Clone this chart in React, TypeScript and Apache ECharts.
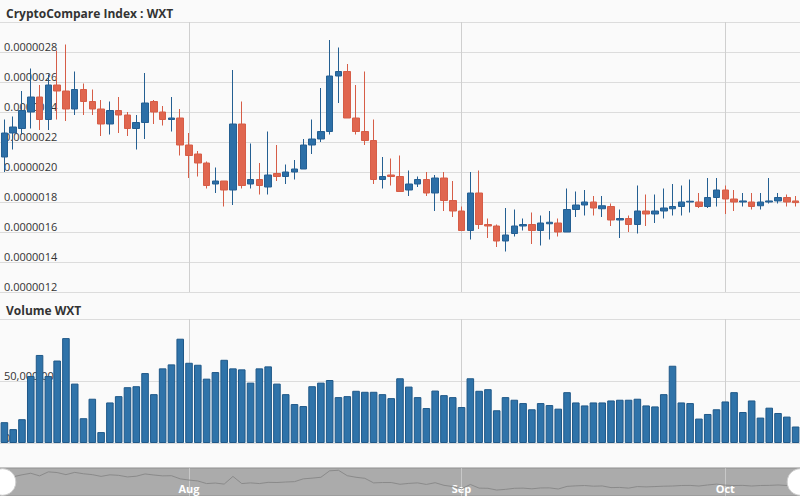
import React, { useEffect, useRef } from "react";
import * as echarts from "echarts";

// 91 daily candles, 11 Jul -> 9 Oct
const DAY_COUNT = 91;
const FIRST_DAY = Date.UTC(2017, 6, 11);
const categories: string[] = [];
for (let i = 0; i < DAY_COUNT; i++) {
  categories.push(new Date(FIRST_DAY + i * 86400000).toISOString().slice(0, 10));
}
const monthNames = ["Jan", "Feb", "Mar", "Apr", "May", "Jun", "Jul", "Aug", "Sep", "Oct", "Nov", "Dec"];

// prices in units of 0.000001
const opens = [
  2.10, 2.26, 2.29, 2.40, 2.50, 2.35, 2.58, 2.54, 2.42, 2.55, 2.47, 2.42, 2.32, 2.41, 2.38, 2.29, 2.33, 2.47, 2.40, 2.35,
  2.36, 2.18, 2.12, 2.06, 1.92, 1.94, 1.88, 2.32, 1.92, 1.95, 1.90, 1.99, 1.97, 2.00, 2.02, 2.18, 2.22, 2.27, 2.64, 2.67,
  2.36, 2.27, 2.21, 1.95, 1.98, 1.97, 1.88, 1.92, 1.95, 1.86, 1.96, 1.81, 1.74, 1.61, 1.86, 1.65, 1.64, 1.54, 1.59, 1.64,
  1.65, 1.61, 1.655, 1.66, 1.60, 1.75, 1.78, 1.80, 1.755, 1.77, 1.68, 1.69, 1.65, 1.74, 1.72, 1.74, 1.755, 1.77, 1.80, 1.80,
  1.77, 1.83, 1.88, 1.82, 1.80, 1.80, 1.775, 1.80, 1.807, 1.83, 1.807,
];
const closes = [
  2.26, 2.30, 2.41, 2.50, 2.35, 2.58, 2.54, 2.42, 2.55, 2.47, 2.42, 2.32, 2.41, 2.38, 2.29, 2.33, 2.46, 2.40, 2.35, 2.36,
  2.18, 2.11, 2.06, 1.91, 1.94, 1.88, 2.32, 1.91, 1.95, 1.91, 1.98, 1.97, 2.00, 2.02, 2.18, 2.22, 2.27, 2.64, 2.67, 2.36,
  2.27, 2.21, 1.95, 1.97, 1.97, 1.87, 1.92, 1.95, 1.86, 1.96, 1.81, 1.74, 1.61, 1.86, 1.65, 1.64, 1.54, 1.58, 1.64, 1.65,
  1.61, 1.66, 1.665, 1.60, 1.75, 1.78, 1.80, 1.76, 1.775, 1.68, 1.69, 1.65, 1.74, 1.72, 1.74, 1.76, 1.77, 1.80, 1.805, 1.77,
  1.83, 1.88, 1.82, 1.80, 1.807, 1.77, 1.80, 1.807, 1.83, 1.80, 1.796,
];
const lows = [
  2.00, 2.15, 2.25, 2.29, 2.28, 2.28, 2.35, 2.34, 2.38, 2.38, 2.38, 2.24, 2.25, 2.26, 2.24, 2.15, 2.22, 2.32, 2.31, 2.27,
  2.11, 1.96, 1.97, 1.89, 1.86, 1.77, 1.78, 1.89, 1.89, 1.85, 1.85, 1.94, 1.92, 1.95, 2.02, 2.12, 2.20, 2.25, 2.46, 2.36,
  2.25, 2.18, 1.92, 1.89, 1.91, 1.87, 1.84, 1.90, 1.84, 1.74, 1.74, 1.70, 1.61, 1.55, 1.62, 1.56, 1.50, 1.47, 1.57, 1.61,
  1.52, 1.51, 1.55, 1.57, 1.60, 1.70, 1.71, 1.71, 1.70, 1.64, 1.56, 1.60, 1.59, 1.64, 1.66, 1.69, 1.71, 1.71, 1.73, 1.76,
  1.76, 1.77, 1.72, 1.74, 1.77, 1.75, 1.75, 1.79, 1.79, 1.77, 1.77,
];
const highs = [
  2.35, 2.37, 2.54, 2.69, 2.58, 2.65, 2.81, 2.85, 2.67, 2.59, 2.55, 2.48, 2.47, 2.50, 2.40, 2.38, 2.66, 2.48, 2.44, 2.50,
  2.42, 2.26, 2.14, 2.07, 2.03, 1.94, 2.68, 2.47, 2.19, 2.06, 2.27, 2.18, 2.05, 2.08, 2.22, 2.35, 2.56, 2.88, 2.83, 2.72,
  2.58, 2.67, 2.35, 2.10, 2.09, 2.11, 2.01, 1.97, 2.00, 1.98, 2.00, 1.94, 1.77, 2.00, 2.01, 1.69, 1.65, 1.76, 1.75, 1.69,
  1.73, 1.71, 1.74, 1.69, 1.89, 1.87, 1.88, 1.84, 1.84, 1.79, 1.75, 1.71, 1.91, 1.85, 1.85, 1.89, 1.92, 1.91, 1.95, 1.86,
  1.96, 1.96, 1.91, 1.88, 1.86, 1.86, 1.86, 1.96, 1.86, 1.85, 1.84,
];
// volume in millions of WXT
const volumes = [
  16.8, 11.2, 19.2, 54, 71, 54, 66.5, 84.6, 47.9, 20, 35.7, 8.8, 32.7, 37.8, 45, 45.8, 56.4, 39.4, 60.2, 63.4,
  84.1, 64.7, 63.1, 51.9, 57.2, 67.1, 60.2, 59.4, 48.7, 60.2, 61.8, 47.9, 39.4, 31.4, 29.8, 45.8, 48.7, 50.8, 37, 37.8,
  42.1, 41.3, 41.3, 39.4, 36.2, 52.2, 45.5, 37, 28.2, 42.3, 38.6, 37, 29, 52.2, 42.1, 43.4, 26.4, 37, 34.9, 32.2,
  27.2, 32.2, 30.6, 27.7, 41, 32.7, 30.3, 32.7, 32.7, 34.3, 34.9, 34.9, 35.7, 30.3, 29.5, 39.4, 62.3, 32.7, 32.2, 19.7,
  23.4, 27.2, 33.5, 41, 25, 34.3, 20.5, 28.5, 24.2, 21.3, 13.3,
];

const FONT = "'Open Sans', 'DejaVu Sans', sans-serif";
const isMonthStart = (_i: number, v: string) => String(v).endsWith("-01");

export default function App() {
  const ref = useRef<HTMLDivElement>(null);
  useEffect(() => {
    if (!ref.current) return;
    const chart = echarts.init(ref.current, undefined, { renderer: "svg" });
    const candleData = categories.map((_, i) => [opens[i], closes[i], lows[i], highs[i]]);
    const hiddenX = (gridIndex: number) => ({
      type: "category" as const,
      gridIndex,
      data: categories,
      boundaryGap: true,
      axisLine: { show: false },
      axisTick: { show: false },
      axisLabel: { show: false },
      splitLine: {
        show: true,
        interval: isMonthStart,
        alignWithLabel: true,
        lineStyle: { color: "#cfcfcf", width: 1 },
      },
    });
    chart.setOption({
      animation: false,
      backgroundColor: "#fafafa",
      textStyle: { fontFamily: FONT },
      title: [
        {
          text: "CryptoCompare Index : WXT",
          left: 1,
          top: 2,
          textStyle: { fontSize: 12, fontWeight: "bold", color: "#333", fontFamily: FONT },
        },
        {
          text: "Volume WXT",
          left: 1,
          top: 299,
          textStyle: { fontSize: 12, fontWeight: "bold", color: "#333", fontFamily: FONT },
        },
      ],
      grid: [
        { left: 0, right: 0, top: 22, height: 270 },
        { left: 0, right: 0, top: 319, height: 124 },
        {
          left: 0,
          right: 0,
          top: 468,
          height: 28,
          show: true,
          backgroundColor: "#ababab",
          borderColor: "#8f8f8f",
          borderWidth: 1,
        },
      ],
      xAxis: [
        hiddenX(0),
        hiddenX(1),
        {
          type: "category",
          gridIndex: 2,
          data: categories,
          boundaryGap: true,
          axisLine: { show: false },
          axisTick: { show: false },
          axisLabel: {
            show: true,
            inside: true,
            interval: isMonthStart,
            formatter: (v: string) => monthNames[Number(v.slice(5, 7)) - 1],
            color: "#ffffff",
            fontSize: 11,
            fontWeight: "bold",
            fontFamily: FONT,
            margin: 2,
          },
          splitLine: {
            show: true,
            interval: isMonthStart,
            alignWithLabel: true,
            lineStyle: { color: "rgba(255,255,255,0.35)" },
          },
        },
      ],
      yAxis: [
        {
          type: "value",
          gridIndex: 0,
          min: 1.2,
          max: 3.0,
          interval: 0.2,
          position: "left",
          axisLine: { show: false },
          axisTick: { show: false },
          splitLine: { show: true, lineStyle: { color: "#dcdcdc" } },
          axisLabel: {
            inside: true,
            margin: 4,
            showMaxLabel: false,
            verticalAlign: "bottom",
            color: "#333",
            fontSize: 11,
            fontFamily: FONT,
            formatter: (v: number) => (v / 1e6).toFixed(7),
          },
        },
        {
          type: "value",
          gridIndex: 1,
          min: 0,
          max: 100,
          interval: 50,
          position: "left",
          axisLine: { show: false },
          axisTick: { show: false },
          splitLine: { show: true, lineStyle: { color: "#dcdcdc" } },
          axisLabel: {
            inside: true,
            margin: 4,
            showMaxLabel: false,
            verticalAlign: "bottom",
            color: "#333",
            fontSize: 11,
            fontFamily: FONT,
            formatter: (v: number) => Math.round(v * 1e6).toLocaleString("en-US"),
          },
        },
        {
          type: "value",
          gridIndex: 2,
          min: 1.2,
          max: 2.8,
          show: false,
          splitLine: { show: false },
        },
      ],
      dataZoom: [
        {
          type: "slider",
          xAxisIndex: [0, 1, 2],
          filterMode: "none",
          start: 0,
          end: 100,
          left: 0,
          right: 0,
          top: 468,
          height: 28,
          showDetail: false,
          showDataShadow: false,
          brushSelect: false,
          moveHandleSize: 0,
          backgroundColor: "rgba(0,0,0,0)",
          borderColor: "rgba(0,0,0,0)",
          fillerColor: "rgba(0,0,0,0)",
          handleIcon: "circle",
          handleSize: "95%",
          handleStyle: { color: "#ffffff", borderColor: "#d0d0d0", borderWidth: 1 },
        },
      ],
      series: [
        {
          type: "candlestick",
          xAxisIndex: 0,
          yAxisIndex: 0,
          data: candleData,
          barWidth: "80%",
          itemStyle: {
            color: "#2c6fa7",
            color0: "#e0664f",
            borderColor: "#245f92",
            borderColor0: "#d65d47",
            borderWidth: 1,
          },
        },
        {
          type: "bar",
          xAxisIndex: 1,
          yAxisIndex: 1,
          data: volumes,
          barWidth: "86%",
          itemStyle: { color: "#2f73a9", borderColor: "#1f5888", borderWidth: 1 },
        },
        {
          type: "line",
          xAxisIndex: 2,
          yAxisIndex: 2,
          data: closes,
          symbol: "none",
          lineStyle: { color: "#8a8a8a", width: 1 },
        },
      ],
    });
    return () => chart.dispose();
  }, []);
  return (
    <div
      ref={ref}
      style={{ position: "fixed", left: 0, top: 0, width: 800, height: 496, background: "#fafafa" }}
    />
  );
}
